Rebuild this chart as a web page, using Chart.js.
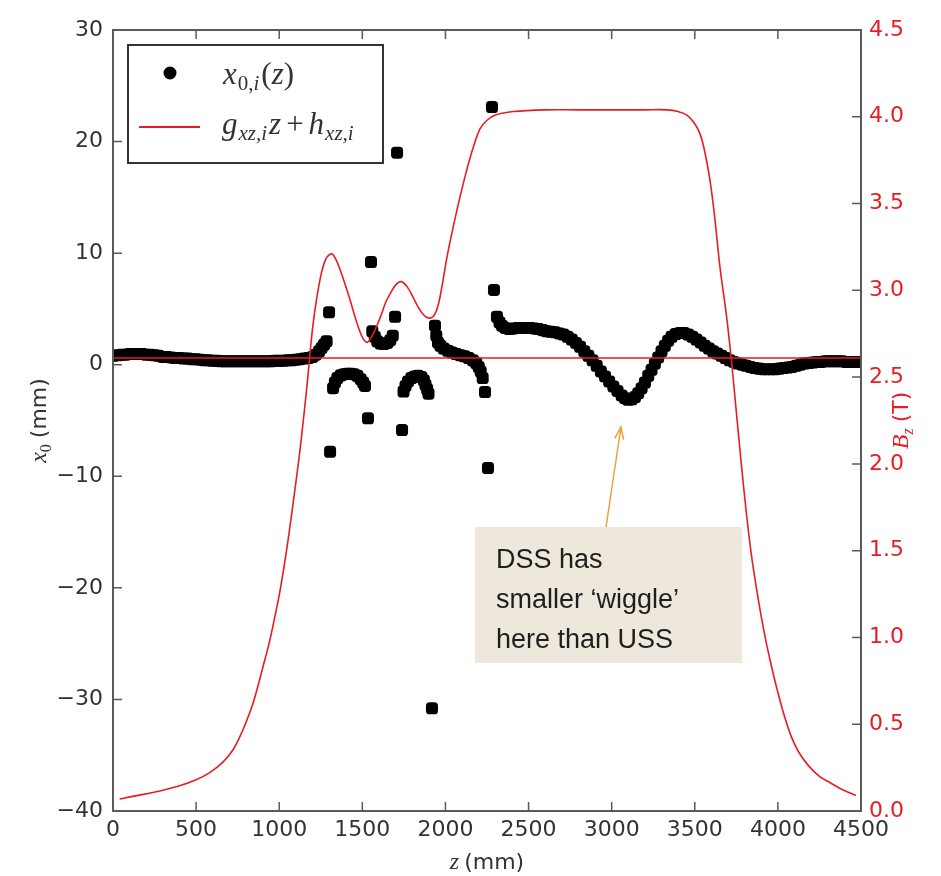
<!DOCTYPE html>
<html>
<head>
<meta charset="utf-8">
<script src="https://cdn.jsdelivr.net/npm/chart.js@4"></script>
<style>
  html, body { margin: 0; padding: 0; background: #fff; }
  canvas { display: block; }
</style>
</head>
<body>
<canvas id="chart" width="941" height="876"></canvas>
<script>
// tick labels
const zTicks = [0, 500, 1000, 1500, 2000, 2500, 3000, 3500, 4000, 4500];
const x0Ticks = [-40, -30, -20, -10, 0, 10, 20, 30];
const bzTicks = [0, 0.5, 1, 1.5, 2, 2.5, 3, 3.5, 4, 4.5];

// x0,i(z) measured points, upstream flat part
const baseZ = [0, 25, 50, 75, 100, 125, 150, 175, 200, 225, 250, 275, 300, 325, 350, 375, 400, 425, 450, 475,
  500, 525, 550, 575, 600, 625, 650, 675, 700, 725, 750, 775, 800, 825, 850, 875, 900, 925, 950, 975,
  1000, 1025, 1050, 1075, 1100, 1125, 1150, 1175, 1200, 1220, 1240, 1255, 1270, 1285];
const baseX0 = [0.8, 0.85, 0.9, 0.9, 0.95, 0.95, 0.95, 0.95, 0.9, 0.9, 0.85, 0.8, 0.7, 0.7, 0.65, 0.6, 0.6, 0.55, 0.55, 0.5,
  0.5, 0.45, 0.4, 0.4, 0.35, 0.35, 0.3, 0.3, 0.3, 0.3, 0.3, 0.3, 0.3, 0.3, 0.3, 0.3, 0.3, 0.3, 0.3, 0.35,
  0.35, 0.35, 0.4, 0.4, 0.45, 0.5, 0.55, 0.6, 0.7, 0.9, 1.2, 1.5, 1.8, 2.1];

// x0,i(z) inside the matching coils
const coilZ = [1300, 1306, 1324, 1335, 1350, 1370, 1390, 1410, 1430, 1450, 1470, 1490, 1505, 1516, 1534, 1552,
  1560, 1575, 1590, 1610, 1630, 1650, 1668, 1683, 1697, 1709, 1739, 1748, 1760, 1775, 1795, 1815, 1835,
  1855, 1870, 1880, 1890, 1898, 1919, 1937, 1945, 1955, 1970, 1990, 2015, 2040, 2065, 2090, 2115, 2140,
  2165, 2185, 2200, 2212, 2224, 2238, 2256, 2280, 2292];
const coilX0 = [4.7, -7.8, -2.1, -1.6, -1.2, -0.95, -0.85, -0.8, -0.8, -0.85, -1.0, -1.3, -1.6, -1.9, -4.8, 9.2,
  3.0, 2.5, 2.1, 1.9, 1.85, 1.95, 2.2, 2.6, 4.3, 19.0, -5.85, -2.4, -1.9, -1.5, -1.2, -1.05, -1.0,
  -1.1, -1.4, -1.8, -2.2, -2.6, -30.8, 3.5, 2.6, 2.0, 1.7, 1.45, 1.25, 1.1, 0.95, 0.85, 0.75, 0.6,
  0.4, 0.15, -0.2, -0.6, -1.2, -2.45, -9.26, 23.1, 6.7];

// x0,i(z) in the solenoid and downstream
const tailZ = [2310, 2325, 2340, 2360, 2385, 2410, 2435, 2460, 2485, 2510, 2535, 2560, 2585, 2610, 2635, 2660,
  2685, 2710, 2735, 2760, 2785, 2810, 2835, 2860, 2885, 2910, 2935, 2960, 2985, 3010, 3035, 3060, 3080,
  3100, 3120, 3140, 3160, 3180, 3200, 3220, 3240, 3260, 3280, 3300, 3320, 3340, 3360, 3385, 3410, 3435,
  3460, 3485, 3510, 3535, 3560, 3585, 3610, 3635, 3660, 3685, 3710, 3735, 3760, 3785, 3810, 3835, 3860,
  3885, 3910, 3935, 3960, 3985, 4010, 4035, 4060, 4085, 4110, 4135, 4160, 4185, 4210, 4235, 4260, 4285,
  4310, 4335, 4360, 4385, 4410, 4435, 4460, 4480];
const tailX0 = [4.3, 3.8, 3.5, 3.3, 3.2, 3.25, 3.3, 3.3, 3.3, 3.3, 3.25, 3.2, 3.1, 3.0, 2.95, 2.9,
  2.8, 2.7, 2.5, 2.25, 1.95, 1.6, 1.2, 0.8, 0.4, -0.1, -0.6, -1.05, -1.5, -1.95, -2.35, -2.75, -3.0,
  -3.15, -3.1, -2.9, -2.55, -2.1, -1.6, -1.0, -0.45, 0.1, 0.65, 1.2, 1.7, 2.15, 2.5, 2.75, 2.85, 2.85,
  2.7, 2.5, 2.25, 2.0, 1.7, 1.45, 1.2, 1.0, 0.8, 0.6, 0.4, 0.25, 0.1, 0.0, -0.1, -0.2, -0.3,
  -0.35, -0.4, -0.4, -0.4, -0.4, -0.35, -0.3, -0.25, -0.2, -0.1, 0.0, 0.1, 0.15, 0.2, 0.25, 0.25, 0.3,
  0.3, 0.3, 0.3, 0.3, 0.25, 0.25, 0.25, 0.25];

// linear fit g*z + h
const fitZ = [0, 4500];
const fitX0 = [0.6, 0.6];

// B_z(z) field map (right axis)
const fieldZ = [40, 150, 300, 400, 500, 580, 660, 720, 764, 800, 842, 872, 902, 935, 963, 1005, 1047, 1083,
  1125, 1167, 1203, 1245, 1280, 1315, 1340, 1366, 1408, 1440, 1468, 1500, 1528, 1560, 1606, 1640, 1667,
  1700, 1733, 1770, 1805, 1859, 1907, 1940, 1967, 2009, 2050, 2088, 2130, 2166, 2208, 2250, 2300, 2407,
  2600, 2800, 3000, 3200, 3333, 3400, 3453, 3500, 3532, 3560, 3592, 3620, 3652, 3690, 3720, 3750, 3780,
  3810, 3840, 3870, 3900, 3930, 3960, 3990, 4035, 4080, 4125, 4185, 4250, 4320, 4374, 4420, 4470];
const fieldB = [0.07, 0.09, 0.12, 0.145, 0.18, 0.22, 0.28, 0.35, 0.43, 0.51, 0.62, 0.72, 0.83, 0.95, 1.07, 1.27, 1.52, 1.77,
  2.08, 2.45, 2.8, 3.06, 3.18, 3.21, 3.18, 3.12, 3.0, 2.9, 2.81, 2.73, 2.7, 2.74, 2.84, 2.93, 2.98,
  3.03, 3.05, 3.02, 2.96, 2.87, 2.84, 2.87, 2.96, 3.19, 3.38, 3.54, 3.7, 3.82, 3.93, 3.98, 4.01, 4.03,
  4.04, 4.04, 4.04, 4.04, 4.04, 4.03, 4.01, 3.96, 3.9, 3.8, 3.63, 3.42, 3.13, 2.86, 2.6, 2.3, 2.0,
  1.72, 1.48, 1.29, 1.12, 0.97, 0.84, 0.72, 0.56, 0.43, 0.34, 0.26, 0.2, 0.16, 0.13, 0.11, 0.09];

const noteLines = ["DSS has", "smaller \u2018wiggle\u2019", "here than USS"];

const RED = "rgb(232, 28, 36)";
const AXIS = "#5a5a5a";
const TEXT = "#333";
const SANS = "'DejaVu Sans', sans-serif";
const SERIF = "'Liberation Serif', serif";

function toXY(xs, ys) {
  return xs.map((x, i) => ({ x: x, y: ys[i] }));
}

const points = toXY(baseZ, baseX0).concat(toXY(coilZ, coilX0), toXY(tailZ, tailX0));

function minus(v) {
  return v < 0 ? "\u2212" + Math.abs(v) : String(v);
}

function drawRuns(ctx, x, y, runs) {
  runs.forEach(function (r) {
    ctx.font = r.font;
    ctx.fillText(r.t, x, y + (r.dy || 0));
    x += ctx.measureText(r.t).width + (r.gap || 0);
  });
  return x;
}

function runsWidth(ctx, runs) {
  let w = 0;
  runs.forEach(function (r) {
    ctx.font = r.font;
    w += ctx.measureText(r.t).width + (r.gap || 0);
  });
  return w;
}

const decorations = {
  id: "decorations",
  afterDatasetsDraw(chart) {
    const ctx = chart.ctx;
    const a = chart.chartArea;
    const sx = chart.scales.x, sy = chart.scales.y, sb = chart.scales.y2;
    ctx.save();

    // inward tick marks
    ctx.strokeStyle = AXIS;
    ctx.lineWidth = 1.5;
    ctx.beginPath();
    sx.ticks.forEach(function (t) {
      const px = sx.getPixelForValue(t.value);
      ctx.moveTo(px, a.bottom); ctx.lineTo(px, a.bottom - 9);
      ctx.moveTo(px, a.top); ctx.lineTo(px, a.top + 9);
    });
    sy.ticks.forEach(function (t) {
      const py = sy.getPixelForValue(t.value);
      ctx.moveTo(a.left, py); ctx.lineTo(a.left + 9, py);
    });
    sb.ticks.forEach(function (t) {
      const py = sb.getPixelForValue(t.value);
      ctx.moveTo(a.right, py); ctx.lineTo(a.right - 9, py);
    });
    ctx.stroke();

    // frame
    ctx.lineWidth = 2;
    ctx.strokeRect(a.left, a.top, a.right - a.left, a.bottom - a.top);

    // legend
    ctx.fillStyle = "#fff";
    ctx.fillRect(128, 45, 255, 118);
    ctx.strokeStyle = "#333";
    ctx.lineWidth = 2;
    ctx.strokeRect(128, 45, 255, 118);
    ctx.fillStyle = "#000";
    ctx.beginPath();
    ctx.arc(170, 73, 6.5, 0, Math.PI * 2);
    ctx.fill();
    ctx.strokeStyle = RED;
    ctx.lineWidth = 2;
    ctx.beginPath();
    ctx.moveTo(139, 127); ctx.lineTo(200, 127);
    ctx.stroke();

    ctx.fillStyle = TEXT;
    ctx.textBaseline = "alphabetic";
    ctx.textAlign = "left";
    const big = "italic 31px " + SERIF, up = "31px " + SERIF;
    const sub = "21px " + SERIF, subI = "italic 21px " + SERIF;
    drawRuns(ctx, 223, 84, [
      { t: "x", font: big, gap: 1 },
      { t: "0,", font: sub, dy: 6 },
      { t: "i", font: subI, dy: 6, gap: 2 },
      { t: "(", font: up },
      { t: "z", font: big },
      { t: ")", font: up }
    ]);
    drawRuns(ctx, 222, 134, [
      { t: "g", font: big, gap: 1 },
      { t: "xz,i", font: subI, dy: 6, gap: 2 },
      { t: "z", font: big, gap: 5 },
      { t: "+", font: up, gap: 5 },
      { t: "h", font: big, gap: 1 },
      { t: "xz,i", font: subI, dy: 6 }
    ]);

    // annotation
    ctx.fillStyle = "rgb(237, 231, 220)";
    ctx.fillRect(475, 527, 267, 136);
    ctx.fillStyle = "#1e1e1e";
    ctx.font = "27px 'Liberation Sans', Arial, sans-serif";
    noteLines.forEach(function (line, i) {
      ctx.fillText(line, 496, 568 + i * 40);
    });
    ctx.strokeStyle = "rgb(240, 160, 60)";
    ctx.lineWidth = 1.5;
    const tip = { x: 621, y: 427 }, tail = { x: 606, y: 527 };
    const ang = Math.atan2(tail.y - tip.y, tail.x - tip.x);
    ctx.beginPath();
    ctx.moveTo(tail.x, tail.y); ctx.lineTo(tip.x, tip.y);
    ctx.moveTo(tip.x + 13 * Math.cos(ang - 0.35), tip.y + 13 * Math.sin(ang - 0.35));
    ctx.lineTo(tip.x, tip.y);
    ctx.lineTo(tip.x + 13 * Math.cos(ang + 0.35), tip.y + 13 * Math.sin(ang + 0.35));
    ctx.stroke();

    // axis titles
    const tBig = "italic 24px " + SERIF, tSub = "italic 16px " + SERIF, tUp = "22px " + SANS;
    const bottomRuns = [{ t: "z", font: tBig, gap: 5 }, { t: "(mm)", font: tUp }];
    ctx.fillStyle = TEXT;
    drawRuns(ctx, (a.left + a.right) / 2 - runsWidth(ctx, bottomRuns) / 2, 869, bottomRuns);

    const leftRuns = [{ t: "x", font: tBig }, { t: "0", font: "16px " + SERIF, dy: 5, gap: 6 }, { t: "(mm)", font: tUp }];
    ctx.save();
    ctx.translate(46, (a.top + a.bottom) / 2);
    ctx.rotate(-Math.PI / 2);
    drawRuns(ctx, -runsWidth(ctx, leftRuns) / 2, 0, leftRuns);
    ctx.restore();

    const rightRuns = [{ t: "B", font: tBig }, { t: "z", font: tSub, dy: 5, gap: 6 }, { t: "(T)", font: tUp }];
    ctx.save();
    ctx.fillStyle = RED;
    ctx.translate(908, (a.top + a.bottom) / 2);
    ctx.rotate(-Math.PI / 2);
    drawRuns(ctx, -runsWidth(ctx, rightRuns) / 2, 0, rightRuns);
    ctx.restore();

    ctx.restore();
  }
};

const tickFont = { family: "DejaVu Sans", size: 22 };

new Chart(document.getElementById("chart"), {
  type: "scatter",
  data: {
    datasets: [
      {
        label: "g z + h",
        type: "line",
        data: toXY(fitZ, fitX0),
        borderColor: RED,
        borderWidth: 1.5,
        pointRadius: 0,
        yAxisID: "y",
      },
      {
        label: "B_z",
        type: "line",
        data: toXY(fieldZ, fieldB),
        borderColor: RED,
        borderWidth: 1.6,
        pointRadius: 0,
        tension: 0.35,
        yAxisID: "y2",
      },
      {
        label: "x0,i(z)",
        data: points,
        pointStyle: "rectRounded",
        pointRadius: 7,
        backgroundColor: "#000",
        borderWidth: 0,
        yAxisID: "y",
      },
    ],
  },
  options: {
    responsive: false,
    animation: false,
    devicePixelRatio: 1,
    layout: { padding: { top: 30, left: 0, right: 0, bottom: 0 } },
    plugins: { legend: { display: false }, tooltip: { enabled: false } },
    scales: {
      x: {
        type: "linear",
        min: 0,
        max: 4500,
        afterBuildTicks: function (s) { s.ticks = zTicks.map(function (v) { return { value: v }; }); },
        afterFit: function (s) { s.height = 65; },
        grid: { display: false, drawTicks: false },
        border: { display: false },
        ticks: { font: tickFont, color: TEXT, padding: 6, maxRotation: 0, autoSkip: false, callback: function (v) { return String(v); } },
      },
      y: {
        position: "left",
        min: -40,
        max: 30,
        afterBuildTicks: function (s) { s.ticks = x0Ticks.map(function (v) { return { value: v }; }); },
        afterFit: function (s) { s.width = 113; },
        grid: { display: false, drawTicks: false },
        border: { display: false },
        ticks: { font: tickFont, color: TEXT, padding: 10, callback: minus },
      },
      y2: {
        position: "right",
        min: 0,
        max: 4.5,
        afterBuildTicks: function (s) { s.ticks = bzTicks.map(function (v) { return { value: v }; }); },
        afterFit: function (s) { s.width = 80; },
        grid: { display: false, drawTicks: false },
        border: { display: false },
        ticks: { font: tickFont, color: RED, padding: 8, callback: function (v) { return v.toFixed(1); } },
      },
    },
  },
  plugins: [decorations],
});
</script>
</body>
</html>
